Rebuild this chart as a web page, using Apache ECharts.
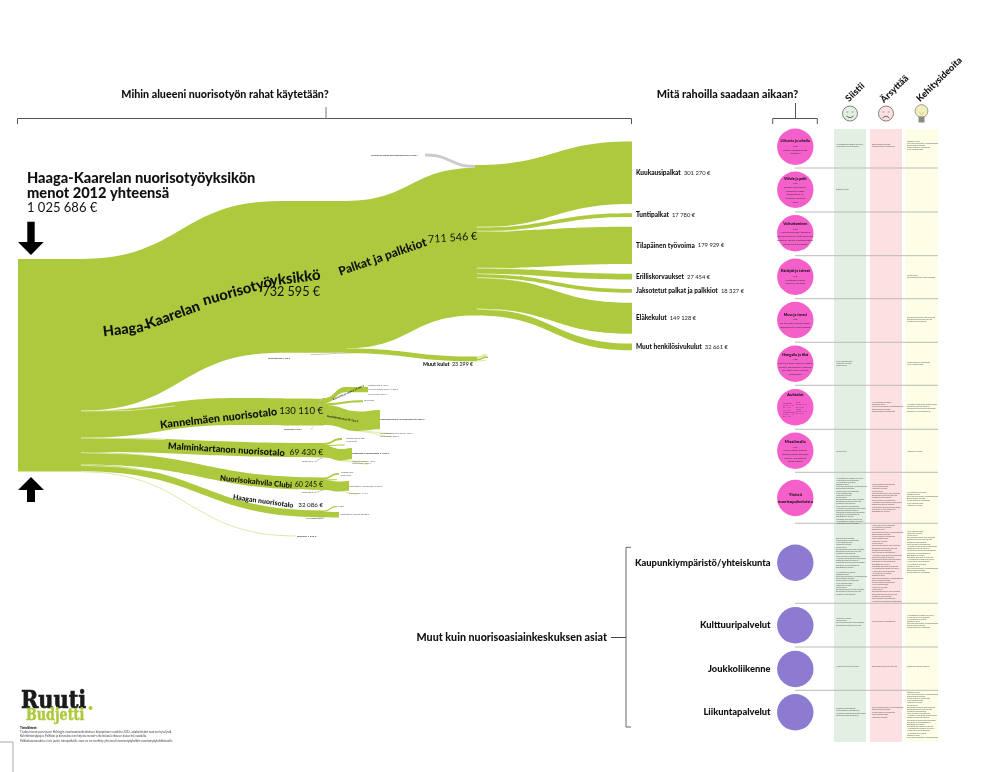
<!DOCTYPE html>
<html><head><meta charset="utf-8">
<style>html,body{margin:0;padding:0;background:#fff}#c{width:992px;height:772px}</style>
<script src="https://cdn.jsdelivr.net/npm/echarts@6/dist/echarts.min.js"></script>
</head><body><div id="c"></div>
<script>
// ---------- DATA: flows [source, target, euros] ----------
const totalFlow = [['root','split',1025686]];
const unitFlows = [
  ['split','unit',732595],['split','kannelA',130110],['split','malminB',69430],
  ['split','clubiB',60245],['split','haagaB',32086],['split','ruoka',1220]];
const mainFlows = [['unit','unit2',732595],['tele','unit2',2250],
  ['koulutus','palkat',15003],['unit2','palkat',711546],['unit2','muutMid',23299]];
const palkatFlows = [['palkat','Kuukausipalkat',301270],['palkat','Tuntipalkat',17780],['palkat','Tilapäinen työvoima',179929],
  ['palkat','Erilliskorvaukset',27454],['palkat','Jaksotetut palkat ja palkkiot',18327],['palkat','Eläkekulut',149128],['palkat','Muut henkilösivukulut',32661]];
const muutFlows = [['muutMid','m1',12000],['muutMid','m2',7000],['muutMid','m3',4299]];
const kannelFlows = [['kannelA','kannelB',130110],['kannelG','kannelB',3100],
  ['kannelB','k1',25000],['kannelB','k2',9344],['kannelB','k3',95766],
  ['k1','k1e',25000],['k3','k4',93000],['k3','k5',1766],['k3','k6',1000]];
const malminFlows = [['malminG','malminB',600],['malminB','a1',10000],['malminB','a2',3000],['malminB','a3',56430],['a3','a4',54000],['a3','a5',1430],['a3','a6',1000]];
const clubiFlows = [['clubiG','clubiB',500],['clubiB','c1',9000],['clubiB','c2',3000],['clubiB','c3',48245],['c3','c4',46500],['c3','c5',1745]];
const haagaFlows = [['haagaG','haagaB',1500],['haagaB','h1',6000],['haagaB','h2',26086]];
// node kinds
const greyNodes = ['tele','koulutus','kannelG','malminG','clubiG','haagaG'];
const paleLinks = ['ruoka','k5','k6','a5','a6','c5','m1','m3'];
// finals
const finalNames = ['Kuukausipalkat','Tuntipalkat','Tilapäinen työvoima','Erilliskorvaukset','Jaksotetut palkat ja palkkiot','Eläkekulut','Muut henkilösivukulut'];
const finalValues = ['301 270 €','17 780 €','179 929 €','27 454 €','18 327 €','149 128 €','32 661 €'];
// circle rows
const pinkTitles = ['Liikunta ja urheilu','Viihde ja pelit','Vaikuttaminen','Käsityöt ja taiteet','Musa ja tanssi','Hengailu ja tilat','Aukiolot','Maailmalla','Yleistä\nnuorisopalveluista'];
const pinkBodies = ['Mm:\nFutsal, kamppailulajit,\nskeittailu',
 'Mm:\nBiljardi, pelikonsolit,\nlautapelit, pingis,\ntietokoneet, tv,\nkaraoke, leffaillat,\npelit',
 'Mm:\nNuorisovaltuusto, tiedotus,\nitsenäisyyspäivä, oppilaskunnat,\nkerhojen ohjaus, päätöksenteko,\nnuorten oma budjetti',
 'Mm:\nKuvataideryhmät,\nkokkaus, leivonta',
 'Mm:\nDJ-toiminta, bändit, tanssi,\nbänditreenit, musiikkipajat',
 'Mm:\nKahvio ja tilat, oleskelu, juttelu,\nkaverit, tapaaminen, ohjaajat,\nlait, tilat, ruoka, sohvat,\nnuorisotalo',
 '',
 'Mm:\nLeirit, retket, matkat,\nkansainvälinen toiminta,\nretkeily, laivaretket,\nmuut matkat',''];
const purpleTitles = ['Kaupunkiympäristö/yhteiskunta','Kulttuuripalvelut','Joukkoliikenne','Liikuntapalvelut'];
// tiny labels: text, euros
const tinyLabels = [
 ['Koulutus ja matkat nuorisotoiminnassa','15 003 €'],['Tulosiirtokulut','2 250 €'],
 ['Kiinteistöt ja vuokrat','25 000 €'],['Muut palvelut','9 344 €'],['Henkilöstökulut','95 766 €'],
 ['Kiinteistövuokrat ja rakennukset','93 000 €'],['Tulosiirrot','3 100 €'],
 ['Kiinteistöt ja rakennukset','54 000 €'],['Ruokailu','1 220 €']];
const feedback = ['Nuorisotalon ilmapiiri on hyvä','Mukavat ja kivat ohjaajat','Hyvät tilat ja välineet','Retket ja leirit','Lisää aukioloaikoja viikonloppuisin','Enemmän tekemistä','Uusia pelejä ja konsoleita','Kiva henkilökunta','Ystävät ja kaverit','Kesäkahvila','Turvallinen paikka olla nuorena','Bussit kulkevat liian harvoin','Puistot ja leikkipaikat','Lisää ilmaisia harrastuksia','Nuorten kuuleminen päätöksissä','Siisteys ja roskat alueella','Konsertit ja elokuvat edullisesti','Uimahalli ja liikuntapaikat','Skeittiparkki lähelle','Kirjaston palvelut ovat hyvät'];
// ---------- LAYOUT (not data) ----------
const W=992,H=772, sankeyTop=259, sankeyH=213, GREEN='#adc93d', GREY='#cbcbcb', PALE='#dfe9a8';
// node id: [x, y, depth]
const nodePos = {
 root:[18,259,0], split:[80,259,1],
 unit:[280,201,2], kannelA:[238,398,2], malminB:[323,443,2], clubiB:[323,477.5,2], haagaB:[323,510.5,2], ruoka:[296,535.5,2],
 tele:[310,354,30], unit2:[345,201,3], kannelG:[310,428.5,31], kannelB:[323,398,3],
 koulutus:[425,153.5,32], palkat:[475,165,4], muutMid:[476,356.5,4],
 malminG:[313,461,33], clubiG:[313,492,34], haagaG:[311,518,35],
 Kuukausipalkat:[631,141.5,5],'Tuntipalkat':[631,213.2,5],'Tilapäinen työvoima':[631,226.8,5],'Erilliskorvaukset':[631,273.8,5],'Jaksotetut palkat ja palkkiot':[631,289,5],'Eläkekulut':[631,302.8,5],'Muut henkilösivukulut':[631,343.5,5],
 m1:[486,354.3,6],m2:[487,356.6,6],m3:[485,360,6],
 k1:[346,387,6],k1e:[367,387,7],k2:[362,400.2,6],k3:[360,411.5,6],k4:[379,410,8],k5:[392,433,8],k6:[392,436,8],
 a1:[341,438,7],a2:[344,444.5,7],a3:[342,449,7],a4:[351,448,9],a5:[368,461,9],a6:[368,463.5,9],
 c1:[338,473,8],c2:[336,479.3,8],c3:[339,481.5,8],c4:[348,481,10],c5:[358,493.5,10],
 h1:[336,506,9],h2:[338,512,9]
};
const allLinks=[].concat(totalFlow,unitFlows,mainFlows,palkatFlows,muutFlows,kannelFlows,malminFlows,clubiFlows,haagaFlows);
const finalLabel={};
finalNames.forEach((n,i)=>finalLabel[n]=finalValues[i]);
const nodes=Object.keys(nodePos).map(id=>{
  const p=nodePos[id];
  const col=greyNodes.includes(id)?GREY:(paleLinks.includes(id)?PALE:GREEN);
  const it={name:id,depth:p[2],localX:p[0]/W,localY:(p[1]-sankeyTop)/sankeyH,itemStyle:{color:col,borderWidth:0}};
  if(finalLabel[id]) it.label={show:true,position:'right',distance:4,formatter:'{b|'+id+'} {r|'+finalLabel[id]+'}'};
  return it;
});
const links=allLinks.map(l=>{
  const col=greyNodes.includes(l[0])?GREY:(paleLinks.includes(l[1])?PALE:GREEN);
  return {source:l[0],target:l[1],value:l[2],lineStyle:{color:col,opacity:1,curveness:0.5}};
});
// ---------- decoration ----------
const FF='Lato, "Noto Sans", sans-serif', BW=900;
const g=[];
function T(x,y,text,o){o=o||{};const st={text:text,fill:o.fill||'#111',fontFamily:o.ff||FF,fontSize:o.s||8,fontWeight:o.w||'normal',align:o.a||'left',verticalAlign:'middle',lineHeight:o.lh};
 if(o.st){st.stroke=o.fill;st.lineWidth=o.st;}
 g.push({type:'text',x:x,y:y,scaleX:o.sx||1,rotation:(o.rot||0)*Math.PI/180,silent:true,z:o.z||20,style:st});}
function L(pts,c,w,z){g.push({type:'polyline',silent:true,z:z||3,shape:{points:pts},style:{stroke:c||'#555',lineWidth:w||1,fill:null}});}
// columns
[[834,32,'#e3efe2'],[870,32,'#fde0e2'],[905,33,'#fefee6']].forEach(c=>g.push({type:'rect',silent:true,z:0,shape:{x:c[0],y:129,width:c[1],height:613},style:{fill:c[2]}}));
[168,212,255.7,298.7,342.3,385.3,429.3,472.3,523.3,603.3,647,690.3].forEach(y=>L([[795,y],[938,y]],'#bbbbbb',1,1));
// white hairlines where ribbons separate
[[[81,411],[130,410.5],[175,406]],[[81,438],[130,438.6],[165,439.6]],[[81,452.7],[130,454],[165,456.5]],[[81,465.2],[120,467],[150,471]],
 [[477,227],[505,226.6],[530,224]],[[477,231],[505,231.6],[525,229.6]],[[477,268],[505,268.3],[530,269.4]],[[477,273.7],[505,274.6],[520,276]],[[477,277.6],[505,279],[520,281]],[[477,309.2],[505,310.5],[525,313.5]]
].forEach(p=>L(p,'#ffffff',.55,10));
// headers + brackets
T(225,95,'Mihin alueeni nuorisotyön rahat käytetään?',{s:10.7,w:BW,a:'center'});
L([[17.5,124],[17.5,118.5],[631.5,118.5],[631.5,124]]);L([[326,118.5],[326,107]],'#777');
T(727.5,95,'Mitä rahoilla saadaan aikaan?',{s:10.8,w:BW,a:'center'});
L([[772.7,124],[772.7,118.5],[817.3,118.5],[817.3,124]]);L([[795.5,118.5],[795.5,103]]);
T(847,100,'Siistii',{s:9.2,w:BW,rot:44});T(882,101,'Ärsyttää',{s:9.2,w:BW,rot:44});T(918,100,'Kehitysideoita',{s:9.2,w:BW,rot:44});
// faces
function face(cx,col,sm){g.push({type:'circle',silent:true,z:3,shape:{cx:cx,cy:113.5,r:7.5},style:{fill:col,stroke:'#333',lineWidth:.6}});
 L([[cx-3.5,112],[cx-1.8,112]],'#555',.6,4);L([[cx+1.8,112],[cx+3.5,112]],'#555',.6,4);
 L(sm?[[cx-3.5,116],[cx-1,117.5],[cx+1,117.5],[cx+3.5,116]]:[[cx-3.5,118],[cx-1,116.3],[cx+1,116.3],[cx+3.5,118]],'#444',.8,4);}
face(850,'#e3efe2',true);face(886,'#fde0e2',false);
g.push({type:'circle',silent:true,z:3,shape:{cx:921.5,cy:111,r:6.4},style:{fill:'#f2efbd',stroke:'#666',lineWidth:.6}});
g.push({type:'rect',silent:true,z:3,shape:{x:918.5,y:116.5,width:6,height:6},style:{fill:'#8a8a80'}});
L([[919.5,112],[921.5,115],[923.5,112]],'#c9b96a',.6,4);
// left texts and arrows
T(27,178.5,'Haaga-Kaarelan nuorisotyöyksikön',{s:14.6,w:BW});T(27,193,'menot 2012 yhteensä',{s:14.6,w:BW});T(27,208,'1 025 686 €',{s:13});
function poly(p){g.push({type:'polygon',silent:true,z:5,shape:{points:p},style:{fill:'#000'}});}
poly([[27.3,221.7],[34.7,221.7],[34.7,242],[43.7,242],[31,255],[18,242],[27.3,242]]);
poly([[31,477],[44,490],[35,490],[35,502],[27,502],[27,490],[18,490]]);
// on-flow labels
T(103,332,'Haaga-',{s:14.4,w:BW,rot:7});
T(146,325,'Kaarelan',{s:14.4,w:BW,rot:20});
T(203,301,'nuorisotyö',{s:14.8,w:BW,rot:16});
T(270,281,'yksikkö',{s:14.8,w:BW,rot:7});
T(320,292,'732 595 €',{s:12.6,a:'right'});
T(339,272,'Palkat ja palkkiot',{s:12,w:BW,rot:19});
T(428,239.5,'711 546 €',{s:10.8,rot:4});
T(160,425,'Kannelmäen nuorisotalo',{s:10.8,w:BW,rot:6.5});T(323,411,'130 110 €',{s:9.6,a:'right'});
T(168,446,'Malminkartanon nuorisotalo',{s:9.2,w:BW,rot:-3.5});T(323,452,'69 430 €',{s:8.4,a:'right'});
T(220,478,'Nuorisokahvila Clubi',{s:7.8,w:BW,rot:-6});T(323,485,'60 245 €',{s:7.1,a:'right'});
T(233,497,'Haagan nuorisotalo',{s:7,w:BW,rot:-8});T(323,505,'32 086 €',{s:6.2,a:'right'});
T(423,364.5,'Muut kulut',{s:5.3,w:BW});T(452,364.5,'23 299 €',{s:5.3});
// tiny labels
const tl=(x,y,i,o)=>{T(x,y,tinyLabels[i][0]+' '+tinyLabels[i][1],Object.assign({s:2.2,w:'bold',fill:'#333'},o||{}));};
tl(371,155,0);tl(268,358.7,1);
T(333,399.5,tinyLabels[2][0]+' '+tinyLabels[2][1],{s:2.5,w:'bold',rot:24});
T(327,416,tinyLabels[4][0]+' '+tinyLabels[4][1],{s:2.8,w:'bold',rot:-10});
tl(380,419.5,5,{s:2.4});tl(284,429,6);tl(352,453.5,7,{s:2.4});tl(297,536.3,8,{s:2.6});
[[368,385,'Ostopalvelut 5 400 €'],[368,389.6,'Vuokrat ja muut kulut 17 000 €'],[368,394,'Muut kulut 2 600 €'],[364,400,'Tarvikkeet'],[380,433,'Kiinteistöpalvelut ja muut 1 766 €'],[380,436,'Muut kulut 1 000 €'],
 [346,438,'Ostopalvelut 5 000'],[346,441,'Muut kulut'],[352,461,'Vuokrat ja muut 1 430 €'],[352,463.5,'Muut kulut 1 000 €'],
 [341,472,'Ostopalvelut'],[340,475.5,'Muut kulut'],[349,486,'Kiinteistöt ja rakennukset 46 500 €'],[349,493.5,'Muut kulut 1 745 €'],
 [340,514,'Kiinteistöt ja vuokrat 26 086 €'],[338,506,'Ostot'],[306,518,'Tulosiirrot 1 500 €'],[302,461,'Tulot 600 €'],[302,492,'Tulot 500 €']
].forEach(t=>T(t[0],t[1],t[2],{s:2.2,fill:'#555'}));
// Muut kuin...
T(607,637.5,'Muut kuin nuorisoasiainkeskuksen asiat',{s:10.7,w:BW,a:'right'});
L([[631,547.3],[626,547.3],[626,727],[631,727]],'#666');L([[611,637.5],[626,637.5]],'#444');
// logo + sources
T(21,702,'Ruuti',{s:24,w:'bold',ff:'"DejaVu Serif", serif',fill:'#1a1a1a',sx:.87,st:.7});
T(26,715.5,'Budjetti',{s:17,w:'bold',ff:'"DejaVu Serif", serif',fill:GREEN,sx:.75,st:.5});
g.push({type:'circle',silent:true,z:6,shape:{cx:90.5,cy:708,r:2},style:{fill:GREEN}});
T(20,728.3,'Tietolähteet:',{s:3,w:BW});
T(20,736.5,'Tiedot/menot perustuvat Helsingin nuorisoasiainkeskuksen kirjanpitoon vuodelta 2012, asiakastiedot nuorten kyselystä.\nKehittämistyöpajat. Palkkiot ja korvaukset on kirjattu menot-eritelmässä erikseen kuluerinä vuodelta.\nPalkkakustannuksia ei ole jaettu toimipaikoille vaan ne on merkitty yhteisesti nuorisotyöyksikön nuorisotyöyksikkötasolle.',{s:2.9,lh:4.2,fill:'#444'});
L([[0,742],[13,742],[13,772]],'#aaa');
// feedback text blocks: [x, y-center-start, lines, offset]
const blocks=[[836,144.5,2,0],[836,189,1,3],[836,361,3,7],[836,451,1,9],[836,478,22,0,2.15],[836,538,14,5,2.25],[836,572,11,2,2.2],[836,618,4,8],[836,666,1,1],[836,708,4,12,2.6],
 [872,144.5,2,5],[872,402,5,2,2.4],[872,484,13,6,2.3],[872,525,34,1,2.3],[872,621,1,13],[872,666,1,11],[872,707,5,4,2.6],
 [907,141,5,3,2.1],[907,275,2,9],[907,317,3,10],[907,362,2,6],[907,404,4,14,2.4],[907,451,1,8],[907,492,7,2,2.2],[907,531,20,7,2.2],[907,615,7,0,2],[907,666,1,15],[907,692,22,3,2.15]];
blocks.forEach(b=>{const lines=[];for(let i=0;i<b[2];i++)lines.push(feedback[(b[3]+i)%feedback.length]);
  T(b[0],b[1]+(b[2]-1)*(b[4]||2.3)/2,lines.join('\n'),{s:2.1,lh:b[4]||2.3,fill:'#5b5b5b',z:4});});
// Aukiolot tiny columns
T(783,410,'Kannelmäki\nma–to 14–21\npe 14–23\nla 16–22\nMalminkartano\nma–to 14–21\npe 14–22',{s:1.8,lh:2.1,fill:'#6a2f5c'});
T(796,408,'Clubi\nma–to 15–21\npe 15–23\nHaaga\nma–to 14–21\npe 14–22',{s:1.8,lh:2.1,fill:'#6a2f5c'});
// ---------- chart ----------
const pinkY=[146.7,189.7,233.3,276.7,320,363.7,407.3,450.7,498];
const purpleY=[562.7,625.3,669,712.3];
const CX=795.3;
const opt={animation:false,backgroundColor:'#fff',
 grid:{left:0,top:0,width:W,height:H,show:false},
 xAxis:{type:'value',min:0,max:W,show:false},
 yAxis:{type:'value',min:0,max:H,inverse:true,show:false},
 graphic:{elements:g},
 series:[
 {type:'sankey',left:0,top:sankeyTop,width:W,height:sankeyH,nodeWidth:1,nodeGap:0,layoutIterations:0,nodeAlign:'left',draggable:false,silent:true,
  emphasis:{disabled:true},
  label:{show:false,fontFamily:FF,color:'#111',rich:{b:{fontFamily:FF,fontWeight:BW,fontSize:6.5,color:'#111'},r:{fontFamily:FF,fontSize:5.8,color:'#222'}}},
  data:nodes,links:links},
 {type:'scatter',silent:true,symbol:'circle',symbolSize:36.4,itemStyle:{color:'#f45fca',opacity:1},z:3,
  data:pinkY.map((y,i)=>({value:[CX,y],title:pinkTitles[i],body:pinkBodies[i]})),
  label:{show:true,position:'inside',formatter:p=>{const big=p.dataIndex>=6;return '{'+(big?'T':'t')+'|'+p.data.title.split('\n').join('}\n{'+(big?'T':'t')+'|')+'}'+(p.data.body?'\n'+p.data.body.split('\n').map(s=>'{b|'+s+'}').join('\n'):'')+(p.dataIndex==6?'\n{b| }\n{b| }\n{b| }\n{b| }\n{b| }\n{b| }\n{b| }':'');},
   rich:{t:{fontFamily:FF,fontWeight:BW,fontSize:3.7,lineHeight:6,color:'#111',align:'center'},T:{fontFamily:FF,fontWeight:BW,fontSize:4.3,lineHeight:7,color:'#111',align:'center'},b:{fontFamily:FF,fontSize:2.6,lineHeight:3.7,color:'#333',align:'center'}}}},
 {type:'scatter',silent:true,symbol:'circle',symbolSize:36.4,itemStyle:{color:'#8c7bd1',opacity:1},z:3,
  data:purpleY.map((y,i)=>({value:[CX,y],title:purpleTitles[i]})),
  label:{show:true,position:'left',distance:6.5,fontFamily:FF,fontWeight:BW,fontSize:9.35,color:'#111',formatter:p=>p.data.title}}
 ]};
const chart=echarts.init(document.getElementById('c'),null,{renderer:'canvas',width:W,height:H});
chart.setOption(opt);
</script></body></html>
